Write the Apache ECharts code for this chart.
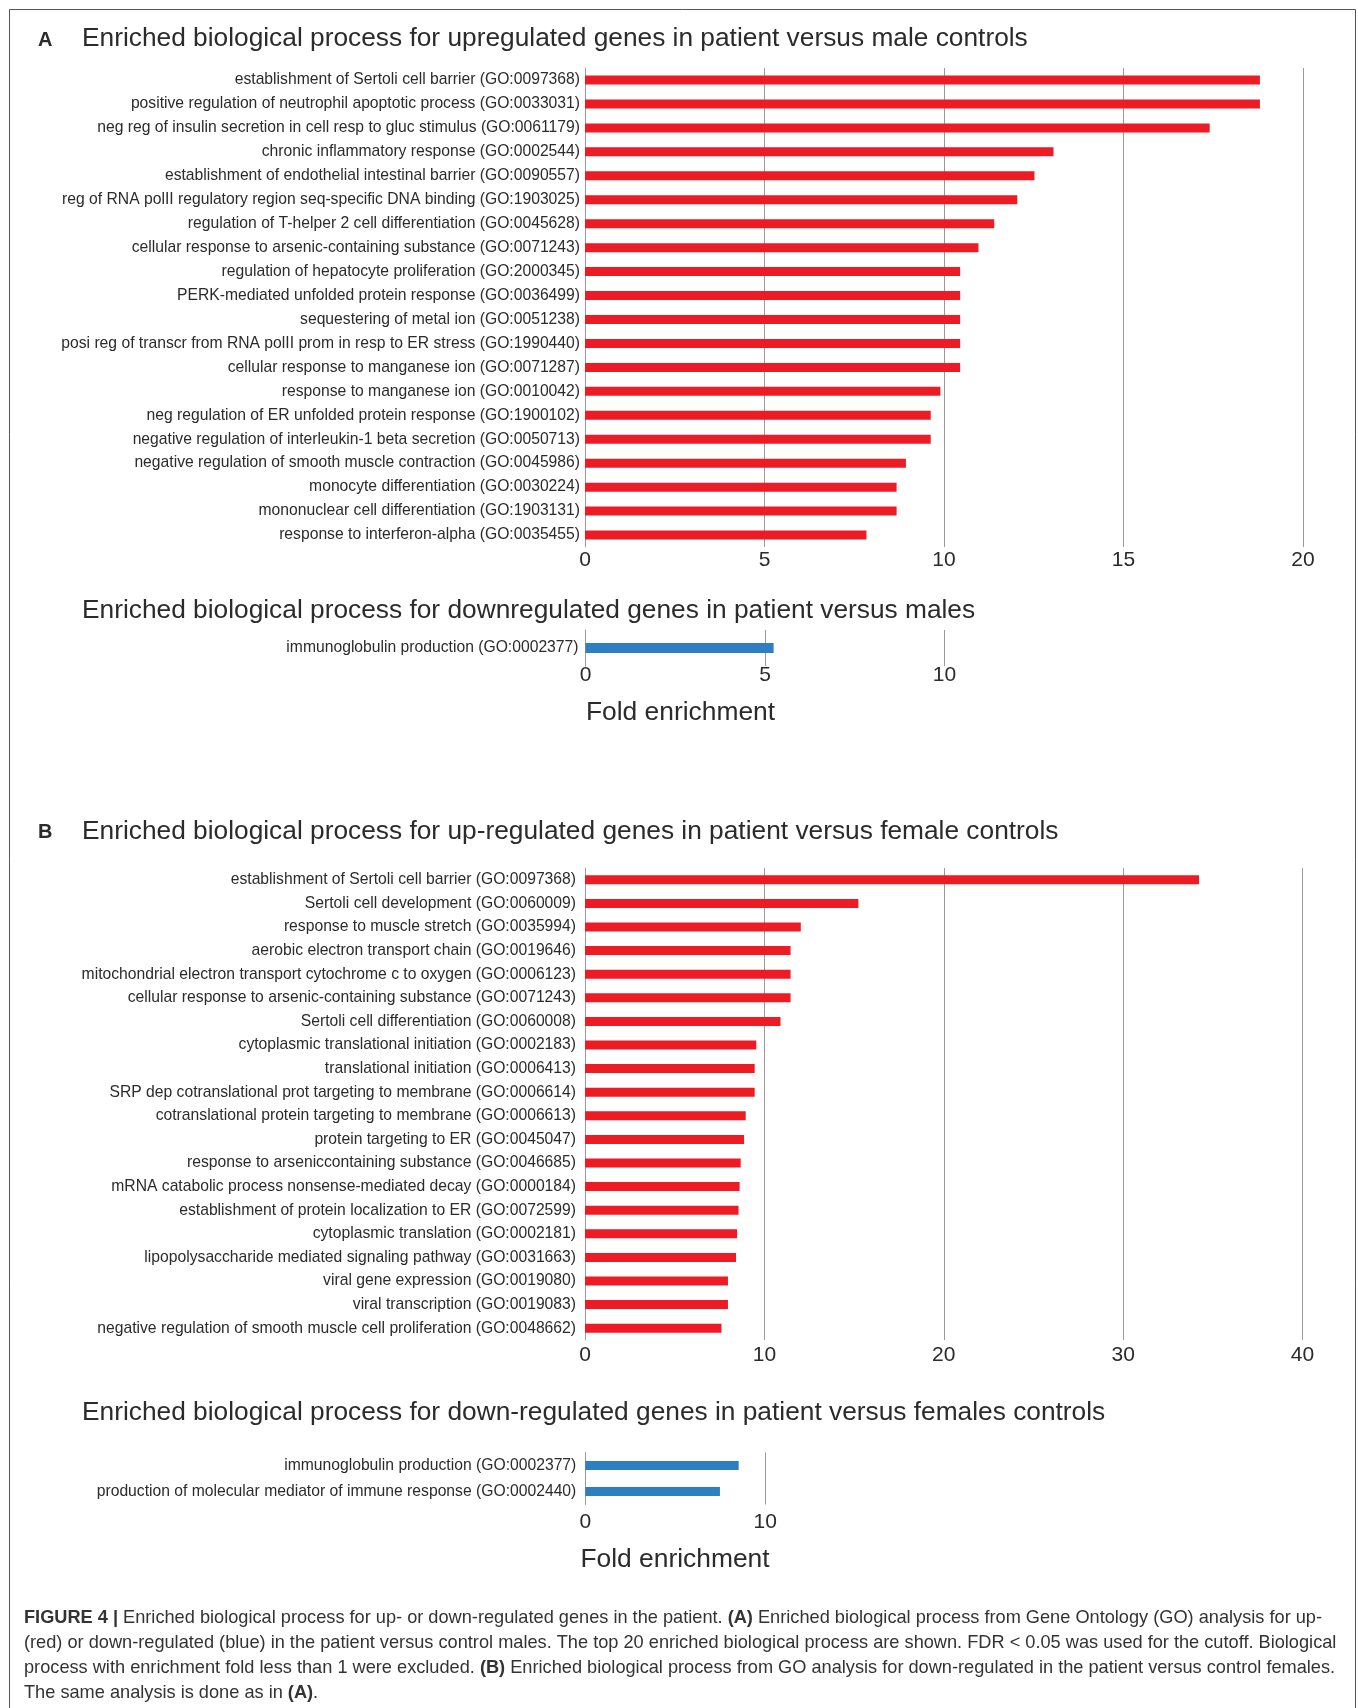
<!DOCTYPE html>
<html>
<head>
<meta charset="utf-8">
<title>Figure 4</title>
<script src="https://cdn.jsdelivr.net/npm/echarts@6.0.0/dist/echarts.min.js"></script>
<style>
  html, body { margin: 0; padding: 0; background: #fff; }
  #main { width: 1358px; height: 1708px; }
</style>
</head>
<body>
<div id="main"></div>
<script>
// panel A, up in patient vs male controls
var upMaleCats = [
  'establishment of Sertoli cell barrier (GO:0097368)',
  'positive regulation of neutrophil apoptotic process (GO:0033031)',
  'neg reg of insulin secretion in cell resp to gluc stimulus (GO:0061179)',
  'chronic inflammatory response (GO:0002544)',
  'establishment of endothelial intestinal barrier (GO:0090557)',
  'reg of RNA polII regulatory region seq-specific DNA binding (GO:1903025)',
  'regulation of T-helper 2 cell differentiation (GO:0045628)',
  'cellular response to arsenic-containing substance (GO:0071243)',
  'regulation of hepatocyte proliferation (GO:2000345)',
  'PERK-mediated unfolded protein response (GO:0036499)',
  'sequestering of metal ion (GO:0051238)',
  'posi reg of transcr from RNA polII prom in resp to ER stress (GO:1990440)',
  'cellular response to manganese ion (GO:0071287)',
  'response to manganese ion (GO:0010042)',
  'neg regulation of ER unfolded protein response (GO:1900102)',
  'negative regulation of interleukin-1 beta secretion (GO:0050713)',
  'negative regulation of smooth muscle contraction (GO:0045986)',
  'monocyte differentiation (GO:0030224)',
  'mononuclear cell differentiation (GO:1903131)',
  'response to interferon-alpha (GO:0035455)'
];
var upMaleVals = [18.8, 18.8, 17.4, 13.05, 12.52, 12.04, 11.4, 10.96, 10.45, 10.45,
  10.45, 10.45, 10.45, 9.9, 9.63, 9.63, 8.94, 8.68, 8.68, 7.84];

// panel A, down
var downMaleCats = ['immunoglobulin production (GO:0002377)'];
var downMaleVals = [5.24];

// panel B, up in patient vs female controls
var upFemaleCats = [
  'establishment of Sertoli cell barrier (GO:0097368)',
  'Sertoli cell development (GO:0060009)',
  'response to muscle stretch (GO:0035994)',
  'aerobic electron transport chain (GO:0019646)',
  'mitochondrial electron transport cytochrome c to oxygen (GO:0006123)',
  'cellular response to arsenic-containing substance (GO:0071243)',
  'Sertoli cell differentiation (GO:0060008)',
  'cytoplasmic translational initiation (GO:0002183)',
  'translational initiation (GO:0006413)',
  'SRP dep cotranslational prot targeting to membrane (GO:0006614)',
  'cotranslational protein targeting to membrane (GO:0006613)',
  'protein targeting to ER (GO:0045047)',
  'response to arseniccontaining substance (GO:0046685)',
  'mRNA catabolic process nonsense-mediated decay (GO:0000184)',
  'establishment of protein localization to ER (GO:0072599)',
  'cytoplasmic translation (GO:0002181)',
  'lipopolysaccharide mediated signaling pathway (GO:0031663)',
  'viral gene expression (GO:0019080)',
  'viral transcription (GO:0019083)',
  'negative regulation of smooth muscle cell proliferation (GO:0048662)'
];
var upFemaleVals = [34.23, 15.24, 12.03, 11.46, 11.46, 11.46, 10.9, 9.55, 9.46, 9.46,
  8.96, 8.87, 8.68, 8.62, 8.56, 8.48, 8.42, 7.97, 7.97, 7.61];

// panel B, down
var downFemaleCats = [
  'immunoglobulin production (GO:0002377)',
  'production of molecular mediator of immune response (GO:0002440)'
];
var downFemaleVals = [8.52, 7.48];

var FONT = "'Liberation Sans', Arial, Helvetica, sans-serif";
var RED = '#ED1C24';
var BLUE = '#2E7FC2';
var TXT = '#2b2b2b';
var GRIDC = '#9a9a9a';

var chart = echarts.init(document.getElementById('main'));

function valAxis(idx, max, interval, margin) {
  return {
    type: 'value', gridIndex: idx, min: 0, max: max, interval: interval,
    axisLine: {show: false}, axisTick: {show: false},
    splitLine: {show: true, lineStyle: {color: GRIDC, width: 1}},
    axisLabel: {fontSize: 21, color: TXT, fontFamily: FONT, margin: margin}
  };
}

function catAxis(idx, data, margin) {
  return {
    type: 'category', gridIndex: idx, data: data, inverse: true,
    axisLine: {show: true, lineStyle: {color: GRIDC, width: 1}},
    axisTick: {show: false},
    axisLabel: {fontSize: 15.7, color: TXT, fontFamily: FONT, margin: margin, interval: 0}
  };
}

function barSeries(idx, data, color, w) {
  return {
    type: 'bar', xAxisIndex: idx, yAxisIndex: idx, data: data,
    barWidth: w, itemStyle: {color: color}, silent: true
  };
}

function label(text, x, y, size, weight, align) {
  return {
    type: 'text', x: x, y: y, silent: true,
    style: {
      text: text, fill: TXT, fontSize: size, fontFamily: FONT, fontWeight: weight || 'normal',
      align: align || 'left', textAlign: align || 'left',
      verticalAlign: 'middle', textVerticalAlign: 'middle'
    }
  };
}

function captionLine(text, y) {
  return {
    type: 'text', x: 24, y: y, silent: true,
    style: {
      text: text, fill: '#333', fontSize: 18.2, fontFamily: FONT,
      verticalAlign: 'middle', textVerticalAlign: 'middle',
      rich: {b: {fontWeight: 'bold', fontSize: 18.2, fontFamily: FONT, fill: '#333'}}
    }
  };
}

var option = {
  animation: false,
  backgroundColor: '#fff',
  grid: [
    {left: 585, top: 68, width: 718, height: 479},
    {left: 585.5, top: 630, width: 359, height: 36},
    {left: 585, top: 868, width: 717.5, height: 472},
    {left: 585.3, top: 1452.5, width: 180, height: 52}
  ],
  xAxis: [
    valAxis(0, 20, 5, 3),
    valAxis(1, 10, 5, -1),
    valAxis(2, 40, 10, 5),
    valAxis(3, 10, 10, 7)
  ],
  yAxis: [
    catAxis(0, upMaleCats, 5),
    catAxis(1, downMaleCats, 7),
    catAxis(2, upFemaleCats, 9),
    catAxis(3, downFemaleCats, 9)
  ],
  series: [
    barSeries(0, upMaleVals, RED, 9),
    barSeries(1, downMaleVals, BLUE, 10),
    barSeries(2, upFemaleVals, RED, 9),
    barSeries(3, downFemaleVals, BLUE, 9)
  ],
  graphic: [
    {
      type: 'rect', silent: true,
      shape: {x: 9.5, y: 9.5, width: 1346, height: 1760},
      style: {fill: 'none', stroke: '#555', lineWidth: 1}
    },
    label('A', 38, 40, 20, 'bold'),
    label('Enriched biological process for upregulated genes in patient versus male controls', 82, 39, 26.3),
    label('Enriched biological process for downregulated genes in patient versus males', 82, 611, 26.3),
    label('Fold enrichment', 680.5, 713, 26.4, 'normal', 'center'),
    label('B', 38, 832, 20, 'bold'),
    label('Enriched biological process for up-regulated genes in patient versus female controls', 82, 832, 26.3),
    label('Enriched biological process for down-regulated genes in patient versus females controls', 82, 1413, 26.3),
    label('Fold enrichment', 675, 1560, 26.4, 'normal', 'center'),
    captionLine('{b|FIGURE 4 |} Enriched biological process for up- or down-regulated genes in the patient. {b|(A)} Enriched biological process from Gene Ontology (GO) analysis for up-', 1618),
    captionLine('(red) or down-regulated (blue) in the patient versus control males. The top 20 enriched biological process are shown. FDR < 0.05 was used for the cutoff. Biological', 1643),
    captionLine('process with enrichment fold less than 1 were excluded. {b|(B)} Enriched biological process from GO analysis for down-regulated in the patient versus control females.', 1668),
    captionLine('The same analysis is done as in {b|(A)}.', 1693)
  ]
};

chart.setOption(option);
</script>
</body>
</html>
